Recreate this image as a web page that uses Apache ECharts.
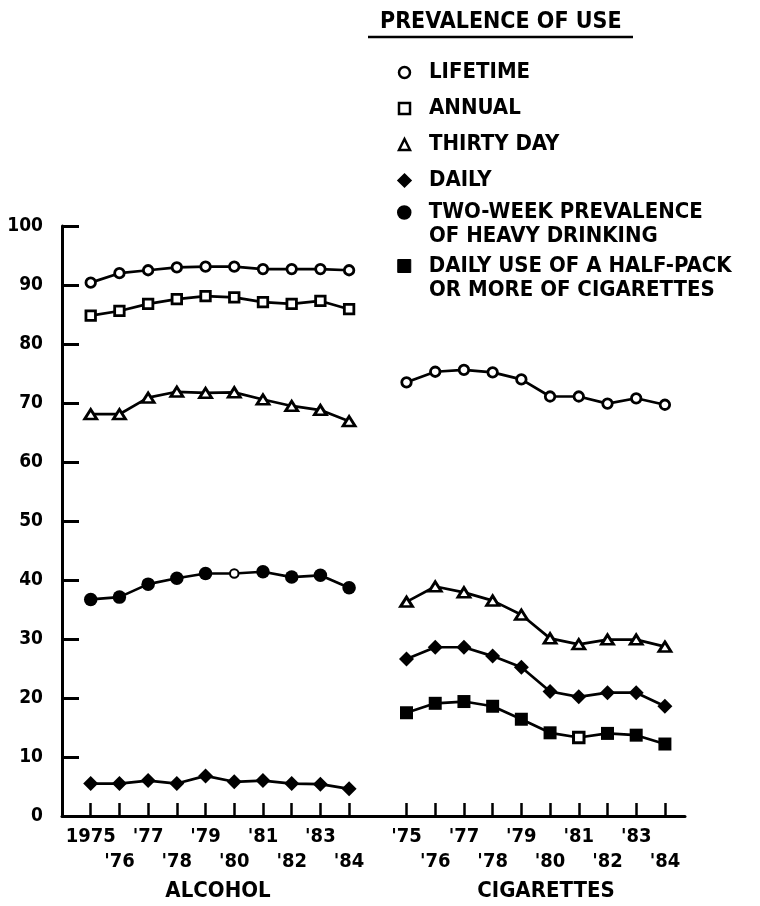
<!DOCTYPE html>
<html><head><meta charset="utf-8">
<script src="https://cdn.jsdelivr.net/npm/echarts@6/dist/echarts.min.js"></script>
<style>html,body{margin:0;padding:0;background:#fff}#c{width:760px;height:906px}</style>
</head><body><div id="c"></div>
<script>
// ---- data ----
const alcoholYears = ['1975', "'76", "'77", "'78", "'79", "'80", "'81", "'82", "'83", "'84"];
const cigaretteYears = ["'75", "'76", "'77", "'78", "'79", "'80", "'81", "'82", "'83", "'84"];
const groupNames = ['ALCOHOL', 'CIGARETTES'];

const alcoholLifetime  = [90.4, 92.0, 92.5, 93.0, 93.1, 93.1, 92.7, 92.7, 92.7, 92.5];
const alcoholAnnual    = [84.8, 85.6, 86.8, 87.6, 88.1, 87.9, 87.1, 86.8, 87.3, 85.9];
const alcoholThirtyDay = [68.1, 68.1, 70.9, 71.9, 71.7, 71.8, 70.6, 69.5, 68.8, 66.9];
const alcoholDaily     = [5.5, 5.5, 6.0, 5.5, 6.8, 5.8, 6.0, 5.5, 5.4, 4.6];
const alcoholHeavy     = [36.7, 37.1, 39.3, 40.3, 41.1, 41.1, 41.4, 40.5, 40.8, 38.7];

const cigLifetime  = [73.5, 75.3, 75.6, 75.2, 74.0, 71.1, 71.1, 69.9, 70.8, 69.7];
const cigThirtyDay = [36.3, 38.9, 37.9, 36.5, 34.1, 30.1, 29.1, 29.9, 29.9, 28.7];
const cigDaily     = [26.6, 28.6, 28.6, 27.1, 25.2, 21.1, 20.2, 20.9, 20.9, 18.6];
const cigHalfPack  = [17.5, 19.1, 19.4, 18.6, 16.4, 14.1, 13.3, 14.0, 13.7, 12.2];

// points drawn as open marks in the original
const alcoholHeavyOpenIndex = 5;   // '80
const cigHalfPackOpenIndex = 6;    // '81

const legendTitle = 'PREVALENCE OF USE';
const S_LIFE = 'LIFETIME', S_ANN = 'ANNUAL', S_30 = 'THIRTY DAY', S_DAILY = 'DAILY';
const S_HEAVY = 'TWO-WEEK PREVALENCE OF HEAVY DRINKING';
const S_HALF = 'DAILY USE OF A HALF-PACK OR MORE OF CIGARETTES';
const heavyLines = ['TWO-WEEK PREVALENCE', 'OF HEAVY DRINKING'];
const halfLines = ['DAILY USE OF A HALF-PACK', 'OR MORE OF CIGARETTES'];

// ---- layout helpers (slots on a shared x scale) ----
const ALC_START = 1, CIG_START = 12, X_MAX = 21.7;
const slotLabels = {};
const tickSlots = [], row1Slots = [], row2Slots = [];
function addGroup(years, start) {
  years.forEach((y, i) => {
    const s = start + i;
    slotLabels[s] = y;
    tickSlots.push(s);
    (i % 2 === 0 ? row1Slots : row2Slots).push(s);
  });
}
addGroup(alcoholYears, ALC_START);
addGroup(cigaretteYears, CIG_START);

const FONT = '"DejaVu Sans Condensed", "DejaVu Sans", sans-serif';
const BLACK = '#000';

function mk(name, values, start, symbol, size, hollow, openIndex, openSize, openBorder) {
  const data = values.map((v, i) => {
    const p = [start + i, v];
    if (i === openIndex) {
      return {value: p, symbolSize: openSize, itemStyle: {color: '#fff', borderColor: BLACK, borderWidth: openBorder}};
    }
    return p;
  });
  return {
    name, type: 'line', data, symbol, symbolSize: size,
    xAxisIndex: 0, showSymbol: true,
    lineStyle: {color: BLACK, width: 2.7},
    itemStyle: hollow ? {color: '#fff', borderColor: BLACK, borderWidth: 2.8}
                      : {color: BLACK, borderColor: BLACK, borderWidth: 0},
    emphasis: {disabled: true},
    silent: true,
    z: 3
  };
}

const series = [
  mk(S_LIFE, alcoholLifetime, ALC_START, 'circle', 9.5, true),
  mk(S_ANN, alcoholAnnual, ALC_START, 'rect', 9.5, true),
  mk(S_30, alcoholThirtyDay, ALC_START, 'triangle', [12, 9.5], true),
  mk(S_DAILY, alcoholDaily, ALC_START, 'diamond', [15, 15], false),
  mk(S_HEAVY, alcoholHeavy, ALC_START, 'circle', 13.5, false, alcoholHeavyOpenIndex, 8.5, 2),
  mk(S_LIFE, cigLifetime, CIG_START, 'circle', 9.5, true),
  mk(S_30, cigThirtyDay, CIG_START, 'triangle', [12, 9.5], true),
  mk(S_DAILY, cigDaily, CIG_START, 'diamond', [15, 15], false),
  mk(S_HALF, cigHalfPack, CIG_START, 'rect', 13, false, cigHalfPackOpenIndex, 10.5, 3)
];

const legendText = {
  color: BLACK, fontFamily: FONT, fontWeight: 'bold', fontSize: 22, lineHeight: 24,
  padding: [0, 0, 0, 14]
};

const xLabelBase = {
  show: true, showMinLabel: true, showMaxLabel: true, hideOverlap: false,
  color: BLACK, fontFamily: FONT, fontWeight: 'bold', fontSize: 20, lineHeight: 24,
  formatter: v => slotLabels[Math.round(v)] || ''
};

const option = {
  backgroundColor: '#fff',
  animation: false,
  title: {
    text: legendTitle, left: 380, top: 10, padding: 0,
    textStyle: {color: BLACK, fontFamily: FONT, fontWeight: 'bold', fontSize: 23, lineHeight: 24}
  },
  legend: [
    {
      orient: 'vertical', left: 397.5, top: 60.5, padding: 0, itemGap: 12,
      itemWidth: 11, itemHeight: 11, selectedMode: false,
      textStyle: legendText,
      data: [
        {name: S_LIFE, icon: 'circle', itemStyle: {color: '#fff', borderColor: BLACK, borderWidth: 2.5}},
        {name: S_ANN, icon: 'rect', itemStyle: {color: '#fff', borderColor: BLACK, borderWidth: 2.5}},
        {name: S_30, icon: 'triangle', itemStyle: {color: '#fff', borderColor: BLACK, borderWidth: 2.5}},
        {name: S_DAILY, icon: 'diamond', itemStyle: {color: BLACK, borderColor: BLACK, borderWidth: 3}}
      ]
    },
    {
      orient: 'vertical', left: 397, top: 200.5, padding: 0, itemGap: 29.5,
      itemWidth: 13, itemHeight: 13, selectedMode: false,
      textStyle: Object.assign({}, legendText, {padding: [0, 0, 0, 13]}),
      formatter: n => n === S_HEAVY ? heavyLines[0] : halfLines[0],
      data: [
        {name: S_HEAVY, icon: 'circle', itemStyle: {color: BLACK, borderColor: BLACK, borderWidth: 1.5}},
        {name: S_HALF, icon: 'rect', itemStyle: {color: BLACK, borderColor: BLACK, borderWidth: 1}}
      ]
    }
  ],
  grid: {left: 62, right: 75, top: 226, bottom: 90, containLabel: false, outerBoundsMode: 'none'},
  xAxis: [
    {
      type: 'value', min: 0, max: X_MAX, position: 'bottom',
      splitLine: {show: false},
      axisLine: {show: true, onZero: true, lineStyle: {color: BLACK, width: 3}},
      axisTick: {show: true, inside: true, length: 13, customValues: tickSlots, lineStyle: {color: BLACK, width: 2.5}},
      axisLabel: Object.assign({}, xLabelBase, {customValues: row1Slots, margin: 9})
    },
    {
      type: 'value', min: 0, max: X_MAX, position: 'bottom',
      splitLine: {show: false},
      axisLine: {show: false, onZero: false},
      axisTick: {show: false},
      axisLabel: Object.assign({}, xLabelBase, {customValues: row2Slots, margin: 34})
    }
  ],
  yAxis: {
    type: 'value', min: 0, max: 100, interval: 10,
    splitLine: {show: false},
    axisLine: {show: true, lineStyle: {color: BLACK, width: 3}},
    axisTick: {show: true, inside: true, length: 17, lineStyle: {color: BLACK, width: 3}},
    axisLabel: {margin: 19, color: BLACK, fontFamily: FONT, fontWeight: 'bold', fontSize: 19,
      showMinLabel: true, showMaxLabel: true}
  },
  graphic: [
    {type: 'line', shape: {x1: 368, y1: 37, x2: 633, y2: 37}, style: {stroke: BLACK, lineWidth: 2.5}},
    {type: 'text', x: 429, y: 236, style: {text: heavyLines[1], font: 'bold 22px ' + FONT, fill: BLACK, verticalAlign: 'middle', textVerticalAlign: 'middle'}},
    {type: 'text', x: 429, y: 290, style: {text: halfLines[1], font: 'bold 22px ' + FONT, fill: BLACK, verticalAlign: 'middle', textVerticalAlign: 'middle'}},
    {type: 'text', x: 218, y: 891, style: {text: groupNames[0], font: 'bold 22px ' + FONT, fill: BLACK, align: 'center', textAlign: 'center', verticalAlign: 'middle', textVerticalAlign: 'middle'}},
    {type: 'text', x: 546, y: 891, style: {text: groupNames[1], font: 'bold 22px ' + FONT, fill: BLACK, align: 'center', textAlign: 'center', verticalAlign: 'middle', textVerticalAlign: 'middle'}}
  ],
  series
};

const chart = echarts.init(document.getElementById('c'), null, {renderer: 'canvas'});
chart.setOption(option);
</script>
</body></html>
